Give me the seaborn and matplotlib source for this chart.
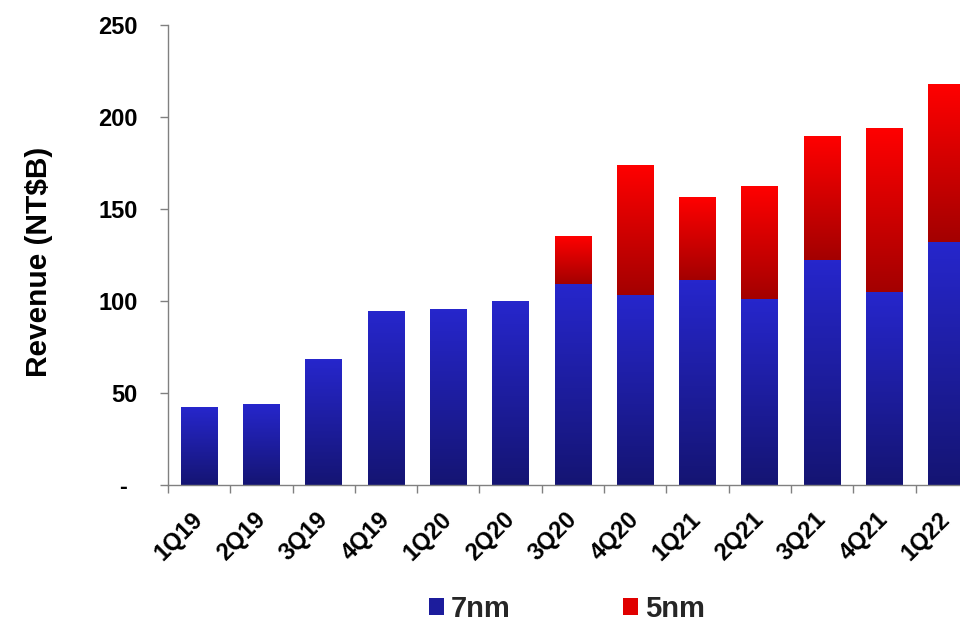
import numpy as np
import pandas as pd
import matplotlib
matplotlib.use("Agg")
import matplotlib.pyplot as plt
import matplotlib.transforms as mtransforms
from matplotlib.patches import Patch
import seaborn as sns

# Quarterly revenue by process node (NT$ billions)
quarters = ["1Q19", "2Q19", "3Q19", "4Q19", "1Q20", "2Q20", "3Q20",
            "4Q20", "1Q21", "2Q21", "3Q21", "4Q21", "1Q22"]
rev_7nm = [42.1, 43.8, 68.2, 94.5, 95.6, 99.6, 109.0,
           103.0, 111.2, 100.9, 122.4, 104.8, 131.9]
rev_5nm = [0, 0, 0, 0, 0, 0, 25.9,
           70.5, 44.6, 60.9, 66.9, 88.6, 85.6]
series_names = ["7nm", "5nm"]
y_ticks = [0, 50, 100, 150, 200, 250]
y_tick_labels = ["-", "50", "100", "150", "200", "250"]

df = pd.DataFrame({"quarter": quarters, "7nm": rev_7nm, "5nm": rev_5nm})
df["total"] = df["7nm"] + df["5nm"]

sns.set_theme(style="white")
plt.rcParams["font.family"] = ["Liberation Sans", "DejaVu Sans"]
plt.rcParams["font.weight"] = "bold"

BLUE_TOP, BLUE_BOT = (0.15, 0.15, 0.80), (0.08, 0.08, 0.45)
RED_TOP, RED_BOT = (1.0, 0.0, 0.0), (0.64, 0.0, 0.0)

fig = plt.figure(figsize=(9.6, 6.23), dpi=100)
ax = fig.add_axes([0.175, 0.2215, 0.8436, 0.7384])

# stacked bars: full height first, 7nm portion on top of it
sns.barplot(data=df, x="quarter", y="total", color=RED_TOP, saturation=1,
            width=0.59, errorbar=None, ax=ax)
sns.barplot(data=df, x="quarter", y="7nm", color=BLUE_TOP, saturation=1,
            width=0.59, errorbar=None, ax=ax)
tot_bars, nm7_bars = ax.containers[0], ax.containers[1]


def gradient(top, bottom, n=256):
    t = np.linspace(0, 1, n)[:, None]
    g = np.array(top) * (1 - t) + np.array(bottom) * t
    return g[:, None, :]


for tb, bb, v5 in zip(tot_bars, nm7_bars, df["5nm"]):
    x0, x1 = tb.get_x(), tb.get_x() + tb.get_width()
    y7, ytot = bb.get_height(), tb.get_height()
    tb.set_facecolor("none")
    tb.set_edgecolor("none")
    bb.set_facecolor("none")
    bb.set_edgecolor("none")
    ax.imshow(gradient(BLUE_TOP, BLUE_BOT), extent=[x0, x1, 0, y7],
              aspect="auto", origin="upper", interpolation="bilinear", zorder=2)
    if v5 > 0:
        ax.imshow(gradient(RED_TOP, RED_BOT), extent=[x0, x1, y7, ytot],
                  aspect="auto", origin="upper", interpolation="bilinear", zorder=2)

ax.set_xlim(-0.5, len(quarters) - 0.5)
ax.set_ylim(0, 250)

# category boundaries carry the tick marks, centers carry the labels
ax.set_xticks(np.arange(len(quarters) + 1) - 0.5)
ax.set_xticklabels([])
ax.set_xticks(np.arange(len(quarters)), minor=True)
ax.set_xticklabels(quarters, minor=True, rotation=45, ha="right", va="center",
                   rotation_mode="anchor", fontsize=17, fontweight="bold")
ax.tick_params(axis="x", which="minor", length=0, pad=22, colors="black")
ax.tick_params(axis="x", which="major", bottom=True, length=5.8, width=1,
               color="#808080", direction="out")
ax.set_xlabel("")

ax.set_yticks(y_ticks, labels=y_tick_labels)
ax.tick_params(axis="y", left=True, length=5.8, width=1, color="#808080",
               direction="out", pad=16, labelsize=17, labelcolor="black")
for lbl in ax.get_yticklabels():
    lbl.set_fontweight("bold")

ax.set_ylabel("Revenue (NT$B)", fontsize=21.5, fontweight="bold", color="black")
ax.yaxis.set_label_coords(-0.142, 0.485)

for side in ("top", "right"):
    ax.spines[side].set_visible(False)
for side in ("left", "bottom"):
    ax.spines[side].set_color("#808080")
    ax.spines[side].set_linewidth(1.0)

handles = [Patch(facecolor="#1c1c9c", edgecolor="none"),
           Patch(facecolor="#e00000", edgecolor="none")]
fig.legend(handles=handles, labels=series_names, loc="center",
           bbox_to_anchor=(567 / 960, 1 - 609 / 623), ncol=2, frameon=False,
           prop={"weight": "bold", "size": 21}, handlelength=0.51,
           handleheight=0.5, handletextpad=0.25, columnspacing=3.85)

# shift the zero label ("-") a little further left
zero_lbl = ax.get_yticklabels()[0]
zero_lbl.set_transform(zero_lbl.get_transform()
                       + mtransforms.ScaledTranslation(-11 / 100, 0, fig.dpi_scale_trans))

fig.savefig("out.png", dpi=100, facecolor="white")
